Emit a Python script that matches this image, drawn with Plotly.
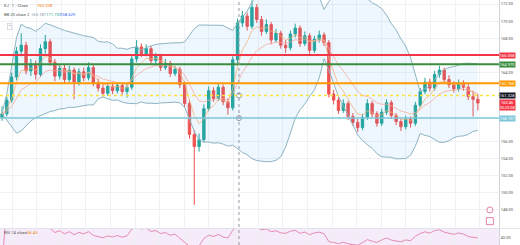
import plotly.graph_objects as go
import pandas as pd

# ---------------- data ----------------
opens = [158.8, 159.2, 160.8, 163.5, 166.5, 167.2, 164.2, 165.0, 163.8, 166.8,
         167.6, 165.2, 163.6, 164.5, 163.2, 164.3, 162.9, 164.1, 163.4, 164.6,
         162.8, 162.2, 161.6, 162.4, 161.9, 162.5, 161.8, 162.3, 165.6, 167.0,
         166.2, 166.8, 165.4, 165.9, 164.6, 165.1, 163.9, 164.4, 162.6, 160.4,
         156.8, 155.4, 156.2, 159.8, 161.9, 161.0, 162.3, 160.6, 159.9, 165.5,
         169.8, 170.6, 169.4, 171.6, 170.2, 168.8, 169.6, 167.8, 168.6, 167.2,
         166.9, 168.5, 169.2, 167.4, 168.3, 166.6, 167.9, 168.4, 167.5, 161.5,
         160.8, 159.6, 160.4, 158.9, 158.2, 157.6, 158.8, 160.4, 159.2, 158.1,
         159.4, 160.5, 159.0, 158.3, 157.7, 158.6, 158.1, 160.2, 161.8, 162.9,
         162.2, 163.8, 164.3, 163.2, 162.6, 162.1, 162.8, 162.3, 161.2, 160.9]
highs = [160.1, 161.2, 164.0, 167.0, 168.6, 167.6, 165.6, 165.4, 167.3, 168.4,
         167.9, 165.6, 165.0, 164.9, 164.8, 164.6, 164.5, 164.6, 165.2, 164.9,
         163.3, 162.7, 162.8, 162.7, 162.9, 162.8, 162.7, 166.0, 167.8, 167.4,
         167.3, 167.1, 166.3, 166.2, 165.6, 165.4, 164.8, 164.7, 163.0, 160.8,
         157.3, 156.9, 160.3, 162.4, 162.3, 162.8, 162.6, 161.0, 165.9, 170.3,
         171.2, 171.0, 172.4, 172.0, 170.6, 170.2, 169.9, 169.1, 168.9, 167.8,
         168.9, 169.7, 169.5, 168.8, 168.6, 168.3, 168.9, 168.7, 167.8, 162.0,
         161.2, 160.9, 160.7, 159.3, 158.6, 159.2, 160.9, 160.7, 159.5, 159.8,
         160.9, 160.8, 159.3, 158.6, 159.0, 158.9, 160.6, 162.2, 163.4, 163.3,
         164.2, 164.8, 164.6, 163.7, 163.0, 163.2, 163.1, 162.7, 161.9, 161.5]
lows = [158.4, 158.9, 160.5, 163.1, 165.9, 163.8, 163.6, 163.2, 163.5, 166.2,
        164.8, 163.0, 163.2, 162.7, 162.9, 160.9, 162.5, 163.0, 163.1, 162.4,
        161.8, 161.2, 161.3, 161.5, 161.6, 161.4, 161.1, 162.0, 165.2, 165.8,
        165.9, 165.0, 165.0, 164.2, 164.3, 163.5, 163.6, 162.2, 160.0, 156.3,
        148.6, 154.8, 155.9, 159.5, 160.6, 160.7, 160.2, 159.1, 159.6, 165.1,
        169.3, 168.9, 169.1, 169.8, 168.3, 168.5, 167.3, 167.5, 166.8, 166.3,
        166.6, 168.1, 167.0, 167.1, 166.2, 166.3, 167.5, 167.1, 161.1, 160.3,
        159.2, 159.3, 158.5, 157.8, 157.1, 157.3, 158.5, 158.8, 157.7, 157.8,
        159.1, 158.6, 157.9, 157.2, 157.4, 157.6, 157.8, 159.9, 161.5, 161.8,
        161.9, 163.4, 162.8, 162.2, 161.7, 161.8, 161.9, 160.8, 158.9, 159.6]
closes = [159.2, 160.8, 163.5, 166.5, 167.2, 164.2, 165.0, 163.8, 166.8, 167.6,
          165.2, 163.6, 164.5, 163.2, 164.3, 162.9, 164.1, 163.4, 164.6, 162.8,
          162.2, 161.6, 162.4, 161.9, 162.5, 161.8, 162.3, 165.6, 167.0, 166.2,
          166.8, 165.4, 165.9, 164.6, 165.1, 163.9, 164.4, 162.6, 160.4, 156.8,
          155.4, 156.2, 159.8, 161.9, 161.0, 162.3, 160.6, 159.9, 165.5, 169.8,
          170.6, 169.4, 171.6, 170.2, 168.8, 169.6, 167.8, 168.6, 167.2, 166.9,
          168.5, 169.2, 167.4, 168.3, 166.6, 167.9, 168.4, 167.5, 161.5, 160.8,
          159.6, 160.4, 158.9, 158.2, 157.6, 158.8, 160.4, 159.2, 158.1, 159.4,
          160.5, 159.0, 158.3, 157.7, 158.6, 158.1, 160.2, 161.8, 162.9, 162.2,
          163.8, 164.3, 163.2, 162.6, 162.1, 162.8, 162.3, 161.2, 160.9, 160.46]

level_values = [166.058, 164.970, 162.760, 161.328, 158.707]
level_colors = ["#f23645", "#388e3c", "#ff9800", "#fbe13a", "#7cc6d8"]
level_labels = ["166.058", "164.970", "162.760", "161.328", "158.707"]
level_label_bg = ["#f23645", "#388e3c", "#ff9800", "#131722", "#7cc6d8"]
current_price = 160.46
countdown = "00:23:08"
tick_values = [148, 150, 152, 154, 156, 164, 168, 170, 172]
cursor_index = 49.3
cursor_marks = [161.328, 158.707]
rsi_tick = [45]

idx = list(range(len(closes)))
s = pd.Series(closes)
mid = s.rolling(20, min_periods=1).mean()
sd = s.rolling(20, min_periods=1).std(ddof=0)
upper = mid + 2 * sd
lower = mid - 2 * sd
ema_fast = s.ewm(span=5, adjust=False).mean()
ema_slow = s.ewm(span=12, adjust=False).mean()
delta = s.diff().fillna(0)
gain = delta.clip(lower=0).ewm(alpha=1 / 14, adjust=False).mean()
loss = (-delta.clip(upper=0)).ewm(alpha=1 / 14, adjust=False).mean()
rsi = 100 - 100 / (1 + gain / loss.replace(0, 1e-9))

W, H = 520, 245
XD = 499 / W
MAIN_BOT = 17 / H
RSI_TOP = 16 / H

fig = go.Figure()
fig.add_trace(go.Scatter(x=idx, y=upper, mode="lines", line=dict(color="#8eb4c2", width=1),
                         hoverinfo="skip", showlegend=False))
fig.add_trace(go.Scatter(x=idx, y=lower, mode="lines", line=dict(color="#8eb4c2", width=1),
                         fill="tonexty", fillcolor="rgba(33,150,243,0.08)",
                         hoverinfo="skip", showlegend=False))
fig.add_trace(go.Scatter(x=idx, y=ema_slow, mode="lines", line=dict(color="#f7a9a0", width=0.8),
                         showlegend=False))
fig.add_trace(go.Scatter(x=idx, y=ema_fast, mode="lines", line=dict(color="#f5b37a", width=0.8),
                         showlegend=False))
fig.add_trace(go.Candlestick(x=idx, open=opens, high=highs, low=lows, close=closes,
                             increasing=dict(line=dict(color="#26a69a", width=1), fillcolor="#26a69a"),
                             decreasing=dict(line=dict(color="#ef5350", width=1), fillcolor="#ef5350"),
                             whiskerwidth=0, showlegend=False))
fig.add_trace(go.Scatter(x=[cursor_index] * len(cursor_marks), y=cursor_marks, mode="markers",
                         marker=dict(symbol="circle", size=5, color="white",
                                     line=dict(color="#8a94a6", width=1)),
                         showlegend=False))
fig.add_trace(go.Scatter(x=[101.5, 101.5], y=[148.0, 146.7], mode="markers",
                         marker=dict(symbol=["circle-open", "square-open"], size=[6, 7],
                                     color="#d64f8a", line=dict(width=1)),
                         showlegend=False))
fig.add_trace(go.Scatter(x=idx, y=rsi, mode="lines", yaxis="y2",
                         line=dict(color="#e58bb5", width=1), showlegend=False))

shapes = []
shapes.append(dict(type="rect", xref="paper", yref="paper", x0=0, x1=XD, y0=0, y1=RSI_TOP,
                   fillcolor="rgba(186,104,200,0.13)", line=dict(width=0), layer="below"))
for v, c in zip(level_values, level_colors):
    dash = "dot" if c == "#fbe13a" else "solid"
    w = 1.5 if c in ("#fbe13a", "#7cc6d8") else 2
    shapes.append(dict(type="line", xref="paper", yref="y", x0=0, x1=XD, y0=v, y1=v,
                       line=dict(color=c, width=w, dash=dash), layer="above"))
shapes.append(dict(type="line", xref="x", yref="paper", x0=cursor_index, x1=cursor_index,
                   y0=0, y1=1, line=dict(color="#9598a1", width=1, dash="dot"), layer="above"))
shapes.append(dict(type="line", xref="paper", yref="paper", x0=0, x1=1, y0=RSI_TOP + 0.002,
                   y1=RSI_TOP + 0.002, line=dict(color="#e0e3eb", width=1)))

ann = []
for v, lab, bg in zip(level_values, level_labels, level_label_bg):
    ann.append(dict(xref="paper", yref="y", x=XD, y=v, xanchor="left", yanchor="middle",
                    text=lab, showarrow=False, bgcolor=bg, width=15, height=5, borderpad=0,
                    font=dict(size=4, color="white")))
ann.append(dict(xref="paper", yref="y", x=XD, y=current_price - 0.25, xanchor="left",
                yanchor="middle", text=f"{current_price:.2f}<br>{countdown}", showarrow=False,
                bgcolor="#f23645", width=15, height=10, borderpad=0,
                font=dict(size=4, color="white")))

def txt(px, py, t, color, size=4.2):
    ann.append(dict(xref="paper", yref="paper", x=px / W, y=1 - py / H, xanchor="left",
                    yanchor="middle", text=t, showarrow=False, font=dict(size=size, color=color)))

txt(2, 5, "EJ · 1 · Close", "#555")
txt(35, 5, "160.328", "#f57c00")
txt(2, 14, "BB 20 close 2", "#555")
txt(29, 14, "165.181", "#8a94a6")
txt(44, 14, "171.732", "#26a69a")
txt(58, 14, "158.629", "#2962ff")
txt(2, 232, "RSI 14 close", "#555")
txt(25, 232, "56.45", "#f57c00")
ann.append(dict(xref="paper", yref="paper", x=7 / W, y=1 - 23 / H, text="⌃", showarrow=False,
                font=dict(size=4, color="#555"), bgcolor="white", bordercolor="#c8ccd6",
                borderwidth=0.6, borderpad=0.5))

fig.update_layout(
    width=W, height=H, margin=dict(l=0, r=0, t=0, b=0),
    paper_bgcolor="white", plot_bgcolor="white",
    font=dict(family="Roboto, Liberation Sans, sans-serif"),
    shapes=shapes, annotations=ann, showlegend=False,
    xaxis=dict(domain=[0, XD], range=[-0.42, 103.4], anchor="y2", rangeslider=dict(visible=False),
               showticklabels=False, showgrid=True, gridcolor="#f0f1f4", gridwidth=1,
               tick0=2.1, dtick=5.12, zeroline=False, ticks=""),
    yaxis=dict(domain=[MAIN_BOT, 1], range=[145.9, 172.466], side="right", anchor="x",
               tickvals=tick_values, ticktext=[f"{v:.2f}" for v in tick_values],
               tickfont=dict(size=4, color="#555"), showgrid=True, gridcolor="#f0f1f4",
               zeroline=False, showline=True, linecolor="#d1d4dc", linewidth=1, ticks=""),
    yaxis2=dict(domain=[0, RSI_TOP], range=[33.3, 60], side="right", anchor="x",
                tickvals=rsi_tick, ticktext=["45.00"], tickfont=dict(size=4, color="#555"),
                showgrid=False, zeroline=False, showline=True, linecolor="#d1d4dc", ticks=""),
)
fig.write_html("out.html")
